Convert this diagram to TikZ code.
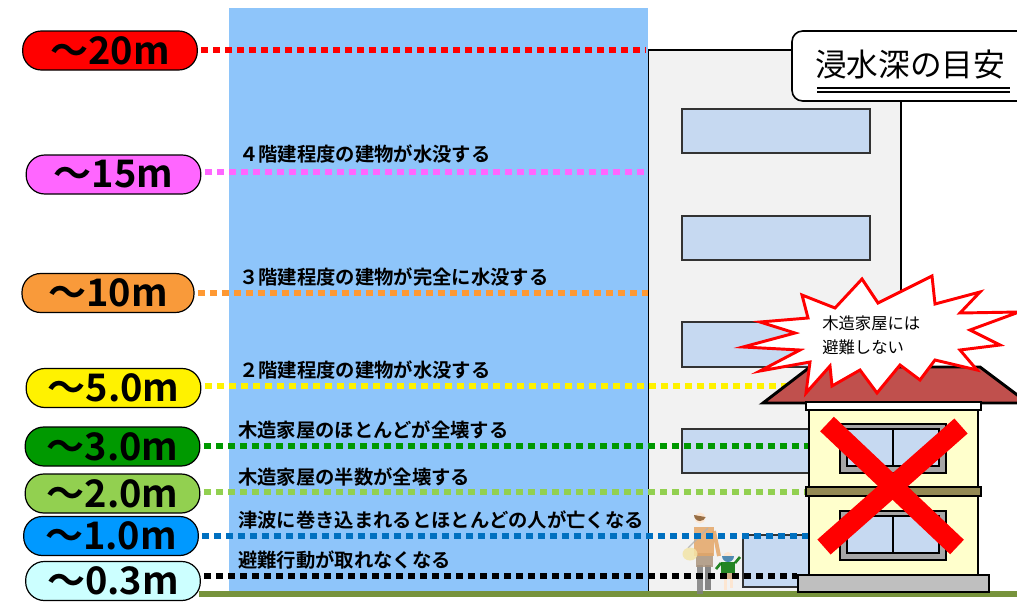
\documentclass[tikz,border=0pt]{standalone}
\usepackage{fontspec}
\newfontfamily\jpb{Noto Sans CJK JP Bold}
\newfontfamily\jpr{Noto Sans CJK JP}
\definecolor{water}{HTML}{8EC5FA}
\definecolor{wall}{HTML}{F2F2F2}
\definecolor{winblue}{HTML}{C6D9F1}
\definecolor{grass}{HTML}{77933C}
\definecolor{roof}{HTML}{C0504D}
\definecolor{cream}{HTML}{FFFFCC}
\definecolor{band}{HTML}{948A54}
\definecolor{base}{HTML}{BFBFBF}
\definecolor{cmag}{HTML}{FF66FF}
\definecolor{corange}{HTML}{F99A3A}
\definecolor{lorange}{HTML}{FF9933}
\definecolor{cgreen}{HTML}{009900}
\definecolor{clgreen}{HTML}{92D050}
\definecolor{cblue}{HTML}{0099FF}
\definecolor{lblue}{HTML}{0070C0}
\definecolor{ccyan}{HTML}{CCFFFF}
\begin{document}
\begin{tikzpicture}[x=0.75pt,y=-0.75pt,
  pill/.style={draw=black, line width=0.9pt, rounded corners=14pt,
    minimum height=29.25pt, minimum width=131pt, inner sep=0pt,
    font=\jpb\fontsize{28.5}{30}\selectfont},
  depth/.style={line width=5pt, dash pattern=on 5.4pt off 3.6pt, shorten <=2.5pt},
  effect/.style={anchor=west, inner sep=0pt, font=\jpb\fontsize{14.5}{16}\selectfont},
  winbox/.style={fill=winblue, draw=black!80, line width=1.1pt},
  frame/.style={fill=black!35, draw=black, line width=1pt},
  outline/.style={draw=black, line width=1.1pt}]
\useasboundingbox (0,0) rectangle (1017,607);
\clip (0,0) rectangle (1017,607);

% tall concrete building with its windows
\draw[fill=wall, outline] (648,592) -- (648,50) -- (901,50) -- (901,592);
\foreach \t/\b in {109/153, 216/260, 322/367, 429/473}
  \draw[winbox] (682,\t) rectangle (870,\b);
\draw[winbox] (743,535) rectangle (840,587);

% flood water column and ground
\fill[water] (229,8) rectangle (648,592);
\draw[grass, line width=4.5pt] (199,593.5) -- (1017,593.5);

% mother and child walking
\begin{scope}[opacity=0.85]
  \fill[black!50] (697,565) rectangle (703,594);
  \fill[black!55] (705,565) rectangle (711,590);
  \fill[black!40!brown!60] (696,553) rectangle (713,567);
  \fill[brown!60!orange!70] (694,527) rectangle (714,556);
  \draw[brown!60!orange!70, line width=3pt] (714,531) -- (719,556);
  \fill[orange!20] (700,518) circle[radius=5.5];
  \fill[brown!70!black] (694,515) arc[start angle=180, end angle=20, radius=6] -- cycle;
  \draw[black!30, line width=1pt] (688,548) -- (708,528);
  \fill[yellow!25!white!80!brown] (690,554) ellipse[x radius=7.5, y radius=6.5];
  \fill[orange!20] (728,557) circle[radius=5];
  \fill[blue!40!cyan!60!black!80] (722,556) arc[start angle=180, end angle=0, radius=6] -- cycle;
  \fill[green!45!black] (721,562) rectangle (735,573);
  \draw[green!45!black, line width=2pt] (721,563) -- (716,569) (735,563) -- (740,557);
  \fill[brown!70] (723,573) rectangle (733,579);
  \fill[orange!20] (724,579) rectangle (727,590);
  \fill[orange!20] (730,579) rectangle (733,588);
\end{scope}

% end points of the depth lines
\coordinate (e20) at (646,50);
\coordinate (e15) at (648,172);
\coordinate (e10) at (648,293);
\coordinate (e5) at (810,386);
\coordinate (e3) at (810,446);
\coordinate (e2) at (810,492);
\coordinate (e1) at (810,536);
\coordinate (e03) at (797,576);

% depth badges
\node[pill, fill=red] (p20) at (110,50.5) {～20m};
\node[pill, fill=cmag] (p15) at (113.5,174.5) {～15m};
\node[pill, fill=corange, minimum width=129pt] (p10) at (108,293) {～10m};
\node[pill, fill=yellow] (p5) at (113.5,388) {～5.0m};
\node[pill, fill=cgreen] (p3) at (112.5,446.5) {～3.0m};
\node[pill, fill=clgreen] (p2) at (112.5,493.5) {～2.0m};
\node[pill, fill=cblue] (p1) at (111,536) {～1.0m};
\node[pill, fill=ccyan] (p03) at (113,581) {～0.3m};

% dotted depth lines
\draw[depth, red] (p20.east |- e20) -- (e20);
\draw[depth, cmag] (p15.east |- e15) -- (e15);
\draw[depth, lorange] (p10.east |- e10) -- (e10);
\draw[depth, yellow] (p5.east |- e5) -- (e5);
\draw[depth, cgreen] (p3.east |- e3) -- (e3);
\draw[depth, clgreen] (p2.east |- e2) -- (e2);
\draw[depth, lblue] (p1.east |- e1) -- (e1);
\draw[depth, black] (p03.east |- e03) -- (e03);

% what happens at each depth
\node[effect] (t15) at (239,154) {４階建程度の建物が水没する};
\node[effect] (t10) at (239,277) {３階建程度の建物が完全に水没する};
\node[effect] (t5) at (239,370) {２階建程度の建物が水没する};
\node[effect] (t3) at (238,430) {木造家屋のほとんどが全壊する};
\node[effect] (t2) at (238,477) {木造家屋の半数が全壊する};
\node[effect] (t1) at (238,520) {津波に巻き込まれるとほとんどの人が亡くなる};
\node[effect] (t03) at (238,560) {避難行動が取れなくなる};

% wooden house
\draw[fill=roof, draw=black, line width=2.2pt, line join=miter]
  (763,403) -- (810,367) -- (980,367) -- (1028,403) -- cycle;
\draw[fill=white, outline] (806,402) rectangle (981,410);
\draw[fill=cream, outline] (809,410) rectangle (978,575);
\draw[fill=band, outline] (806,487) rectangle (981,496);
\foreach \t in {424, 511} {
  \draw[frame] (840,\t) rectangle (946,\t+49);
  \draw[winbox, draw=black] (847,\t+5) rectangle (939,\t+42);
  \draw[black, line width=1pt] (893,\t+5) -- (893,\t+42);
}
\draw[fill=base, outline] (798,575) rectangle (989,592);
\draw[red, line width=15pt] (827,424) -- (957,547);
\draw[red, line width=15pt] (961,426) -- (824,547);

% warning burst
\draw[fill=white, draw=red, line width=2.2pt, line join=miter]
  (743,347) -- (795,333) -- (760,322) -- (808,318) -- (802,295) -- (835,308)
  -- (862,279) -- (878,303) -- (932,276) -- (935,304) -- (980,292) -- (960,313)
  -- (1019,312) -- (970,330) -- (1000,345) -- (960,350) -- (977,370) -- (935,360)
  -- (920,380) -- (900,365) -- (877,393) -- (860,370) -- (832,386) -- (830,366)
  -- (806,393) -- (810,362) -- (760,371) -- (800,350) -- cycle;
\node[anchor=west, inner sep=0pt, align=left, font=\jpr\fontsize{12.25}{18}\selectfont]
  (warn) at (822,335) {木造家屋には\\避難しない};

% title panel
\draw[fill=white, draw=black, line width=1.2pt, rounded corners=8pt]
  (792,31) rectangle (1040,101);
\node[anchor=west, inner sep=0pt, font=\jpr\fontsize{23.75}{26}\selectfont]
  (title) at (815,64) {浸水深の目安};
\draw[line width=1.3pt] (817,88) -- (1010,88);
\draw[line width=1.3pt] (817,92) -- (1010,92);
\end{tikzpicture}
\end{document}
